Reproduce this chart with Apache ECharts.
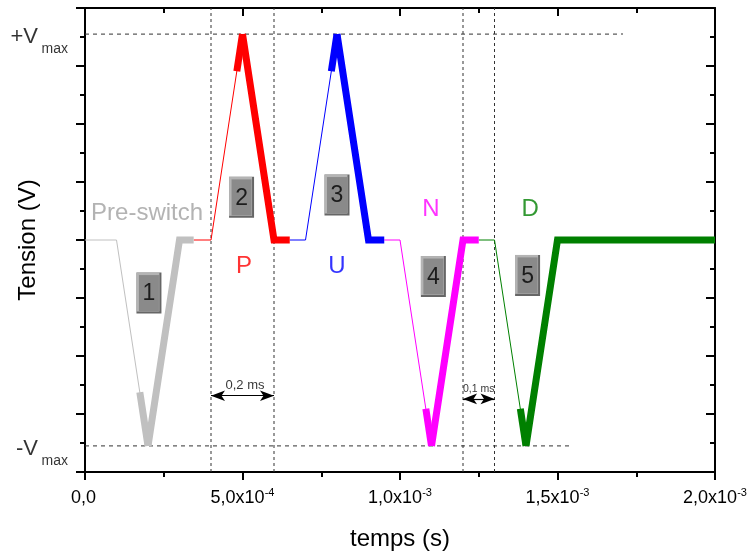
<!DOCTYPE html>
<html><head><meta charset="utf-8">
<script src="https://cdn.jsdelivr.net/npm/echarts@6/dist/echarts.min.js"></script>
<style>html,body{margin:0;padding:0;background:#fff}#c{width:752px;height:557px}</style>
</head><body><div id="c"></div>
<script>
const VMAX = 7.1;
// time (s) / tension (arbitrary units, Vmax = 7.1) for each pulse part
const preThinT = [0, 0.0001, 0.0002];       const preThinV = [0, 0, -VMAX];
const preHeadT = [0.000174, 0.0002];         const preHeadV = [-5.25, -VMAX];
const preThickT = [0.0002, 0.0003, 0.000345]; const preThickV = [-VMAX, 0, 0];
const pThinT = [0.000345, 0.0004, 0.0005];   const pThinV = [0, 0, VMAX];
const pHeadT = [0.000482, 0.0005];           const pHeadV = [5.82, VMAX];
const pThickT = [0.0005, 0.0006, 0.00065];   const pThickV = [VMAX, 0, 0];
const uThinT = [0.00065, 0.0007, 0.0008];    const uThinV = [0, 0, VMAX];
const uHeadT = [0.000782, 0.0008];           const uHeadV = [5.82, VMAX];
const uThickT = [0.0008, 0.0009, 0.00095];   const uThickV = [VMAX, 0, 0];
const nThinT = [0.00095, 0.001, 0.0011];     const nThinV = [0, 0, -VMAX];
const nHeadT = [0.001082, 0.0011];           const nHeadV = [-5.82, -VMAX];
const nThickT = [0.0011, 0.0012, 0.00125];   const nThickV = [-VMAX, 0, 0];
const dThinT = [0.00125, 0.0013, 0.0014];    const dThinV = [0, 0, -VMAX];
const dHeadT = [0.001382, 0.0014];           const dHeadV = [-5.82, -VMAX];
const dThickT = [0.0014, 0.0015, 0.002];     const dThickV = [-VMAX, 0, 0];

const guideX = [0.0004, 0.0006, 0.0012, 0.0013];
const guideYRange = [-8, 8];
const vmaxLineEnd = 0.001708;
const vminLineEnd = 0.001546;

const xTicks = [0, 0.0005, 0.001, 0.0015, 0.002];
const xTickMain = ['0,0', '5,0x10', '1,0x10', '1,5x10', '2,0x10'];
const xTickExp = [' ', '-4', '-3', '-3', '-3'];

const vLabelMain = ['+V', '-V'];
const vLabelSub = ['max', 'max'];
const vLabelLevel = [VMAX, -VMAX];

const textLabels = ['Pre-switch', 'P', 'U', 'N', 'D', '0,2 ms', '0,1 ms'];
const textT = [0.000197, 0.000505, 0.0008, 0.001098, 0.001413, 0.000508, 0.00125];
const textV = [0.93, -0.91, -0.91, 1.07, 1.07, -5.03, -5.14];

const boxNums = ['1', '2', '3', '4', '5'];
const boxT = [0.000203, 0.000497, 0.0008, 0.001106, 0.001405];
const boxV = [-1.83, 1.47, 1.55, -1.26, -1.22];

const spanStart = [0.0004, 0.0012];
const spanEnd = [0.0006, 0.0013];
const spanV = [-5.37, -5.48];

// styles
const FONT = '"Liberation Sans", Arial, sans-serif';
const C = {grey:'#c0c0c0', red:'#ff0000', blue:'#0000ff', mag:'#ff00ff', green:'#008000'};
const textColors = ['#a0a0a0', C.red, C.blue, C.mag, C.green, '#000', '#000'];
const textSizes = [24, 24, 24, 24, 24, 13, 10.5];

const zip = (t, v) => t.map((x, i) => [x, v[i]]);
function seg(t, v, color, width, z) {
  return {type:'line', data: zip(t, v), symbol:'none', silent:true, z:z,
    lineStyle:{color:color, width:width, cap:'butt', join:'miter'}, animation:false};
}
const THIN = 1, THICK = 7;
const waveSeries = [
  seg(preThinT, preThinV, C.grey, THIN, 3), seg(preHeadT, preHeadV, C.grey, THICK, 4), seg(preThickT, preThickV, C.grey, THICK, 4),
  seg(pThinT, pThinV, C.red, THIN, 3), seg(pHeadT, pHeadV, C.red, THICK, 4), seg(pThickT, pThickV, C.red, THICK, 4),
  seg(uThinT, uThinV, C.blue, THIN, 3), seg(uHeadT, uHeadV, C.blue, THICK, 4), seg(uThickT, uThickV, C.blue, THICK, 4),
  seg(nThinT, nThinV, C.mag, THIN, 3), seg(nHeadT, nHeadV, C.mag, THICK, 4), seg(nThickT, nThickV, C.mag, THICK, 4),
  seg(dThinT, dThinV, C.green, THIN, 3), seg(dHeadT, dHeadV, C.green, THICK, 4), seg(dThickT, dThickV, C.green, THICK, 4)
];

const dashStyle = {color:'#333', width:1, type:[4,4]};
const guideSeries = guideX.map(x => ({type:'line', data:[[x, guideYRange[0]], [x, guideYRange[1]]], symbol:'none',
    silent:true, z:2, animation:false, lineStyle:{color:'#333', width:1, type:[3,3]}}))
  .concat([
  {type:'line', data:[[0, VMAX], [vmaxLineEnd, VMAX]], symbol:'none', silent:true, z:2, lineStyle:dashStyle, animation:false},
  {type:'line', data:[[0, -VMAX], [vminLineEnd, -VMAX]], symbol:'none', silent:true, z:2, lineStyle:dashStyle, animation:false},
  {type:'line', data:[[spanStart[0], spanV[0]]], symbol:'none', lineStyle:{opacity:0}, silent:true, z:6, animation:false,
    markLine:{silent:true, symbol:['arrow','arrow'], symbolSize:[8,14], animation:false, label:{show:false},
      lineStyle:{color:'#000', width:1.2, type:'solid'},
      data: spanStart.map((s, i) => [{coord:[s, spanV[i]]}, {coord:[spanEnd[i], spanV[i]]}])}}
]);

const textSeries = {
  type:'scatter', symbolSize:0, silent:true, z:8, clip:false, animation:false,
  data: textLabels.map((t, i) => ({value:[textT[i], textV[i]],
    label:{show:true, position:'inside', formatter:t, color:textColors[i], fontSize:textSizes[i], fontFamily:FONT}}))
};

const boxData = boxNums.map((n, i) => [boxT[i], boxV[i], n]);
const boxSeries = [
  {type:'scatter', data: boxData, symbol:'rect', symbolSize:[25,41], silent:true, z:9, clip:false, animation:false,
    itemStyle:{color:'#404040'}},
  {type:'scatter', data: boxData, symbol:'rect', symbolSize:[23,39], symbolOffset:[-1,-1], silent:true, z:10, clip:false, animation:false,
    itemStyle:{color:'#c8c8c8'}},
  {type:'scatter', data: boxData, symbol:'rect', symbolSize:[20,36], silent:true, z:11, clip:false, animation:false,
    itemStyle:{color:'#808080'},
    label:{show:true, position:'inside', formatter: p => p.data[2], color:'#000', fontSize:23, fontFamily:FONT, offset:[0,1]}}
];

const vmaxLabels = {
  type:'scatter', symbolSize:0, silent:true, z:8, clip:false, animation:false,
  data: [].concat(
    vLabelMain.map((t, i) => ({value:[0, vLabelLevel[i]], label:{show:true, position:'left', distance:47,
      formatter:t, fontSize:22, fontFamily:FONT, color:'#000', offset:[0,3]}})),
    vLabelSub.map((t, i) => ({value:[0, vLabelLevel[i]], label:{show:true, position:'left', distance:17,
      formatter:t, fontSize:14, fontFamily:FONT, color:'#000', offset:[0,15.5]}}))
  )
};

const axisLineStyle = {color:'#000', width:2};
const option = {
  backgroundColor:'#fff',
  animation:false,
  grid:{left:85, right:37, top:8, bottom:85, containLabel:false},
  xAxis:[
    {type:'value', min:0, max:0.002, interval:0.0005, position:'bottom',
      name:'temps (s)', nameLocation:'middle', nameGap:55,
      nameTextStyle:{fontSize:24, fontFamily:FONT, color:'#000'},
      axisLine:{onZero:false, lineStyle:axisLineStyle},
      axisTick:{length:8, lineStyle:{color:'#000', width:2}},
      minorTick:{show:true, splitNumber:2, length:5, lineStyle:{color:'#000', width:2}},
      splitLine:{show:false},
      axisLabel:{margin:15, formatter:(v) => {
          const i = xTicks.findIndex(t => Math.abs(t - v) < 1e-9);
          return i < 0 ? '' : '{m|' + xTickMain[i] + '}{e|' + xTickExp[i] + '}';
        },
        rich:{m:{fontSize:18, fontFamily:FONT, color:'#000', lineHeight:20, verticalAlign:'bottom'},
              e:{fontSize:11, fontFamily:FONT, color:'#000', lineHeight:11, verticalAlign:'top', padding:[0,0,15,0]}}}},
    {type:'value', min:0, max:0.002, interval:0.0005, position:'top',
      axisLine:{onZero:false, lineStyle:axisLineStyle},
      axisTick:{inside:true, length:8, lineStyle:{color:'#000', width:2}},
      minorTick:{show:true, splitNumber:2, length:5, lineStyle:{color:'#000', width:2}},
      splitLine:{show:false}, axisLabel:{show:false}}
  ],
  yAxis:[
    {type:'value', min:-8, max:8, interval:2, position:'left',
      name:'Tension (V)', nameLocation:'middle', nameGap:45,
      nameTextStyle:{fontSize:24, fontFamily:FONT, color:'#000'},
      axisLine:{onZero:false, lineStyle:axisLineStyle},
      axisTick:{length:9, lineStyle:{color:'#000', width:2}},
      minorTick:{show:true, splitNumber:2, length:5, lineStyle:{color:'#000', width:2}},
      splitLine:{show:false}, axisLabel:{show:false}},
    {type:'value', min:-8, max:8, interval:2, position:'right',
      axisLine:{onZero:false, lineStyle:axisLineStyle},
      axisTick:{inside:true, length:9, lineStyle:{color:'#000', width:2}},
      minorTick:{show:true, splitNumber:2, length:5, lineStyle:{color:'#000', width:2}},
      splitLine:{show:false}, axisLabel:{show:false}}
  ],
  series: [].concat(guideSeries, waveSeries, [textSeries], boxSeries, [vmaxLabels])
};
const chart = echarts.init(document.getElementById('c'), null, {renderer:'canvas'});
chart.setOption(option);
</script>
</body></html>
